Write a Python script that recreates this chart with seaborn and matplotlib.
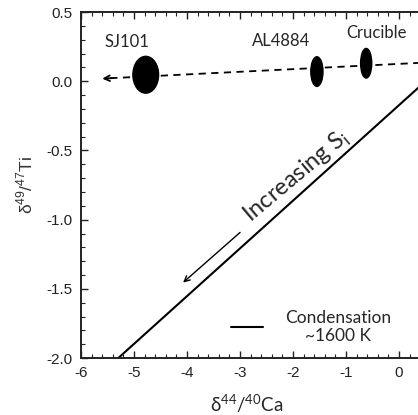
import matplotlib
matplotlib.use("Agg")
import matplotlib.pyplot as plt
import seaborn as sns
from matplotlib.patches import Ellipse
from matplotlib.ticker import MultipleLocator, FormatStrFormatter

# measured samples (centre and full size of the error ellipse)
samples = ["SJ101", "AL4884", "Crucible"]
sample_ca = [-4.78, -1.55, -0.62]
sample_ti = [0.047, 0.07, 0.13]
sample_w = [0.485, 0.23, 0.21]
sample_h = [0.266, 0.214, 0.214]
label_ca = [-5.13, -2.23, -0.43]
label_ti = [0.28, 0.29, 0.35]

# dashed trend through the samples
trend_ca = [-5.45, 0.5]
trend_ti = [0.022, 0.135]

# condensation line ~1600 K
cond_ca = [-5.30, 0.5]
cond_ti = [-2.0, 0.0]

sns.set_style("ticks")
plt.rcParams["font.family"] = ["Liberation Sans", "DejaVu Sans"]
plt.rcParams["axes.unicode_minus"] = False

fig = plt.figure(figsize=(4.18, 4.15), dpi=100)
ax = fig.add_axes([0.194, 0.137, 0.824, 0.834])

sns.lineplot(x=trend_ca, y=trend_ti, color="black", linestyle=(0, (4, 3)),
             linewidth=1.3, ax=ax, legend=False)
ax.annotate("", xy=(-5.6, 0.019), xytext=(-5.4, 0.023),
            arrowprops=dict(arrowstyle="->", color="black", lw=1.3,
                            shrinkA=0, shrinkB=0))
sns.lineplot(x=cond_ca, y=cond_ti, color="black", linewidth=1.5, ax=ax,
             label="Condensation\n~1600 K")

for name, x, y, w, h, lx, ly in zip(samples, sample_ca, sample_ti, sample_w,
                                    sample_h, label_ca, label_ti):
    ax.add_patch(Ellipse((x, y), w, h, color="black", zorder=3))
    ax.text(lx, ly, name, ha="center", va="center", fontsize=12,
            family=["Lato", "DejaVu Sans"])

# direction of increasing supersaturation
ax.annotate("", xy=(-4.075, -1.454), xytext=(-3.0, -1.092),
            arrowprops=dict(arrowstyle="->", color="black", lw=1.0,
                            shrinkA=0, shrinkB=0))
ax.text(-1.93, -0.69, r"Increasing S$_{\mathregular{i}}$", rotation=40,
        ha="center", va="center", fontsize=17, family=["Lato", "DejaVu Sans"],
        rotation_mode="anchor")

ax.set_xlim(-6, 0.5)
ax.set_ylim(-2.0, 0.5)
ax.xaxis.set_major_locator(MultipleLocator(1))
ax.xaxis.set_minor_locator(MultipleLocator(0.2))
ax.yaxis.set_major_locator(MultipleLocator(0.5))
ax.yaxis.set_minor_locator(MultipleLocator(0.1))
ax.yaxis.set_major_formatter(FormatStrFormatter("%.1f"))
ax.tick_params(which="both", direction="in", top=True, right=False,
               colors="#222222", labelcolor="#222222")
ax.tick_params(which="major", length=5, width=1.0, labelsize=11, pad=6)
ax.tick_params(which="minor", length=3, width=0.8)
for s in ["left", "bottom", "top"]:
    ax.spines[s].set_linewidth(1.4)
    ax.spines[s].set_color("#222222")
ax.spines["right"].set_visible(False)

ax.set_xlabel(r"δ$^{\mathregular{44}}$/$^{\mathregular{40}}$Ca", fontsize=13.5,
              family=["Lato", "DejaVu Sans"], va="center")
ax.set_ylabel(r"δ$^{\mathregular{49}}$/$^{\mathregular{47}}$Ti", fontsize=12.5,
              color="#333333", va="center")
ax.xaxis.set_label_coords(0.482, -0.13)
ax.yaxis.set_label_coords(-0.163, 0.5)

leg = ax.legend(loc="center left", bbox_to_anchor=(0.435, 0.09), frameon=False,
                handlelength=1.85, handletextpad=1.25, borderpad=0,
                borderaxespad=0, prop={"family": "Lato", "size": 12.5})
for t in leg.get_texts():
    t.set_multialignment("center")

fig.savefig("out.png", dpi=100)
